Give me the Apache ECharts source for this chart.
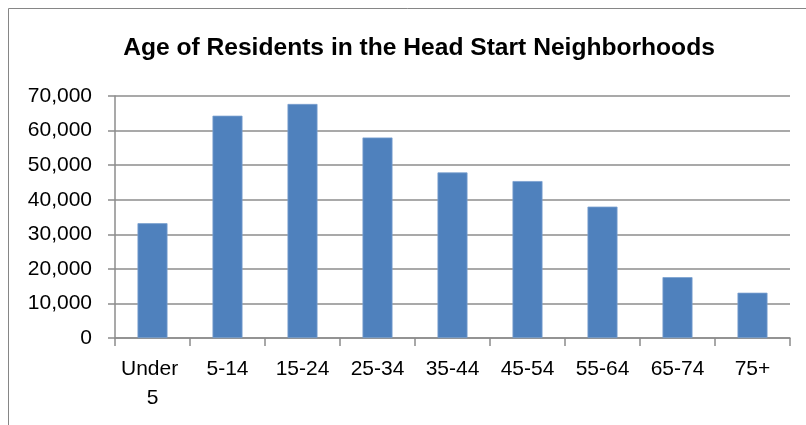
<!DOCTYPE html>
<html>
<head>
<meta charset="utf-8">
<script src="https://cdn.jsdelivr.net/npm/echarts@6/dist/echarts.min.js"></script>
<style>
  html, body { margin: 0; padding: 0; background: #fff; }
  #chart { width: 806px; height: 425px; }
</style>
</head>
<body>
<div id="chart"></div>
<script>
var ageGroups = ['Under 5', '5-14', '15-24', '25-34', '35-44', '45-54', '55-64', '65-74', '75+'];
var residents = [33200, 64300, 67700, 58000, 47900, 45400, 38000, 17600, 13100];
var yTicks = [0, 10000, 20000, 30000, 40000, 50000, 60000, 70000];

var chart = echarts.init(document.getElementById('chart'));

var gridLine = '#8c8c8c';

var option = {
    animation: false,
    backgroundColor: '#fff',
    textStyle: { fontFamily: 'Liberation Sans' },
    title: {
        text: 'Age of Residents in the Head Start Neighborhoods',
        left: 414,
        textAlign: 'center',
        top: 31,
        textStyle: {
            fontFamily: 'Liberation Sans',
            fontWeight: 'bold',
            fontSize: 24.6,
            color: '#000'
        }
    },
    graphic: [{
        type: 'rect',
        shape: { x: 8.5, y: 8.5, width: 820, height: 440 },
        style: { fill: 'none', stroke: '#868686', lineWidth: 1 },
        silent: true
    }],
    grid: { left: 115, right: 16, top: 96, bottom: 87 },
    xAxis: {
        type: 'category',
        data: ageGroups,
        axisLine: { lineStyle: { color: gridLine, width: 1.5 } },
        axisTick: { show: true, length: 8, alignWithLabel: false, lineStyle: { color: gridLine, width: 1.5 } },
        axisLabel: {
            color: '#000',
            fontSize: 21,
            margin: 17,
            lineHeight: 29,
            width: 66,
            overflow: 'break',
            interval: 0
        }
    },
    yAxis: {
        type: 'value',
        min: yTicks[0],
        max: yTicks[yTicks.length - 1],
        interval: 10000,
        axisLine: { show: true, lineStyle: { color: gridLine, width: 1.5 } },
        axisTick: { show: true, length: 7, lineStyle: { color: gridLine, width: 1.5 } },
        axisLabel: {
            color: '#000',
            fontSize: 21,
            margin: 23,
            formatter: function (v) { return v.toLocaleString('en-US'); }
        },
        splitLine: { lineStyle: { color: gridLine, width: 1.5 } }
    },
    series: [{
        type: 'bar',
        data: residents,
        barWidth: 30,
        itemStyle: { color: '#4f81bd', borderColor: '#7aa0cf', borderWidth: 0.8 }
    }]
};

chart.setOption(option);
</script>
</body>
</html>
